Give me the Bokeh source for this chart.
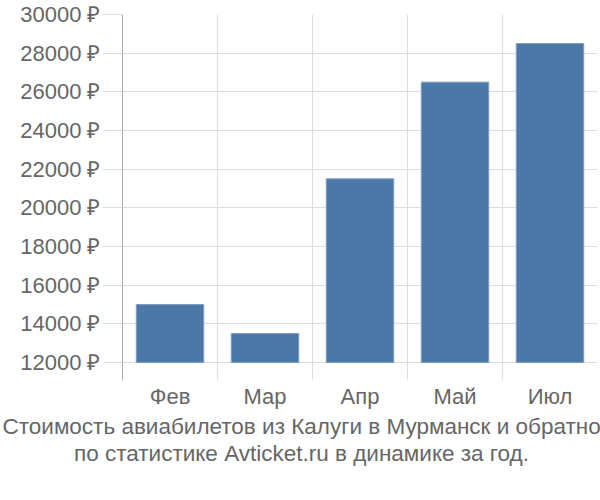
from bokeh.plotting import figure
from bokeh.models import FixedTicker, Range1d, Title, ColumnDataSource
from bokeh.embed import file_html
from bokeh.resources import INLINE

months = ["Фев", "Мар", "Апр", "Май", "Июл"]
prices = [15000, 13500, 21500, 26500, 28500]
y_ticks = [12000, 14000, 16000, 18000, 20000, 22000, 24000, 26000, 28000, 30000]
title_lines = ["Стоимость авиабилетов из Калуги в Мурманск и обратно",
               "по статистике Avticket.ru в динамике за год."]

FONT = "Liberation Sans"
TXT = "#666666"
GRID = "#dddddd"

xs = [i + 0.5 for i in range(len(months))]
source = ColumnDataSource(dict(x=xs, top=prices, month=months))

p = figure(width=600, height=500, output_backend="svg", toolbar_location=None,
           x_range=Range1d(0, len(months)), y_range=Range1d(11070, 30000),
           min_border_left=122, min_border_right=3, min_border_top=14,
           min_border_bottom=120)
p.outline_line_color = None
p.background_fill_color = "white"
p.border_fill_color = "white"

p.vbar(x="x", top="top", bottom=12000, width=0.71, source=source,
       fill_color="#4c78a8", line_color="#7d9dc2", line_width=1)

# y axis
p.yaxis.ticker = FixedTicker(ticks=y_ticks)
p.yaxis.major_label_overrides = {t: f"{t} ₽" for t in y_ticks}
p.yaxis.major_label_text_font = FONT
p.yaxis.major_label_text_font_size = "22px"
p.yaxis.major_label_text_color = TXT
p.yaxis.major_label_standoff = 2
p.yaxis.major_tick_in = 0
p.yaxis.major_tick_out = 20
p.yaxis.major_tick_line_color = GRID
p.yaxis.minor_tick_line_color = None
p.yaxis.axis_line_color = "#aaaaaa"

# x axis
p.xaxis.ticker = FixedTicker(ticks=xs)
p.xaxis.major_label_overrides = {x: m for x, m in zip(xs, months)}
p.xaxis.major_label_text_font = FONT
p.xaxis.major_label_text_font_size = "22px"
p.xaxis.major_label_text_color = TXT
p.xaxis.major_label_standoff = -3
p.xaxis.major_tick_line_color = None
p.xaxis.minor_tick_line_color = None
p.xaxis.axis_line_color = None

# grids
p.ygrid.ticker = FixedTicker(ticks=y_ticks)
p.ygrid.grid_line_color = GRID
p.xgrid.ticker = FixedTicker(ticks=list(range(len(months) + 1)))
p.xgrid.grid_line_color = GRID

# invisible spacer between the axis and the caption
spacer = Title(text=" ", text_font_size="1px", text_alpha=0, standoff=39)
p.add_layout(spacer, "below")

# two-line caption below the chart, roughly centred on the canvas
t1 = Title(text=title_lines[0], align="left", text_font=FONT,
           text_font_size="22.5px", text_color=TXT, text_font_style="normal",
           standoff=0, offset=-120)
t2 = Title(text=title_lines[1], align="left", text_font=FONT,
           text_font_size="22.5px", text_color=TXT, text_font_style="normal",
           standoff=0, offset=-48.5)
p.add_layout(t1, "below")
p.add_layout(t2, "below")

open("out.html", "w").write(file_html(p, INLINE))
